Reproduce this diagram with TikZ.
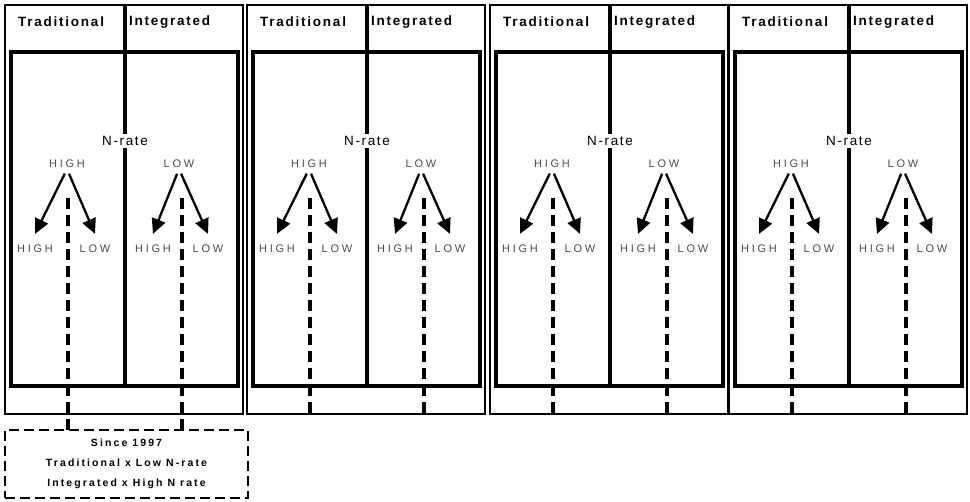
\documentclass[tikz,border=0pt]{standalone}
\usepackage{fontspec}
\setmainfont{Liberation Sans}
\usetikzlibrary{arrows.meta, positioning}

\begin{document}
\begin{tikzpicture}[x=1pt, y=-1pt, >={Triangle[length=15pt, width=14pt]},
    frame/.style={draw, line width=1.2pt},
    heavy/.style={line width=4.5pt},
    head/.style={anchor=west, inner sep=0pt,
                 font=\bfseries\fontsize{13.5}{15}\selectfont\addfontfeature{LetterSpace=13}},
    rate/.style={inner sep=2pt, font=\fontsize{13.5}{15}\selectfont\addfontfeature{LetterSpace=12}},
    lvl/.style={inner sep=1pt, text=black!70,
                font=\fontsize{11}{12}\selectfont\addfontfeature{LetterSpace=25}},
    split/.style={->, line width=2.3pt, shorten <=5pt},
    link/.style={line width=3.5pt, dash pattern=on 11pt off 6pt},
    note/.style={draw, line width=2.8pt, dash pattern=on 10pt off 5pt, align=center,
                 minimum width=243pt, minimum height=68pt, inner sep=0pt,
                 font=\bfseries\fontsize{10.5}{20}\selectfont\addfontfeature{LetterSpace=20}}]
  \useasboundingbox (0,0) rectangle (970,502);

  % legend box below the first panel
  \node[note] (note) at (126.5,464) {Since 1997\\Traditional x Low N-rate\\Integrated x High N rate};

  \foreach \d/\e [count=\i] in {125/430, 367/414, 610/414, 849/414} {
    % frames and divider
    \draw[frame] (\d-120,5) rectangle (\d+118,414);
    \draw[heavy] (\d-114,52) rectangle (\d+113,386);
    \node[head] (tr\i) at (\d-107,22) {Traditional};
    \node[head] (ig\i) at (\d+4,22) {Integrated};
    \node[rate] (nr\i) at (\d,141) {N-rate};
    \draw[heavy] (\d,5) -- (nr\i.north);
    \draw[heavy] (nr\i.south) -- (\d,386);
    % levels
    \node[lvl] (hi\i) at (\d-58,164) {HIGH};
    \node[lvl] (lo\i) at (\d+54,164) {LOW};
    \node[lvl] (hh\i) at (\d-90,249) {HIGH};
    \node[lvl] (hl\i) at (\d-30,249) {LOW};
    \node[lvl] (lh\i) at (\d+28,249) {HIGH};
    \node[lvl] (ll\i) at (\d+83,249) {LOW};
    \draw[split] (hi\i.south) -- ([yshift=10pt]hh\i.north);
    \draw[split] (hi\i.south) -- ([yshift=10pt]hl\i.north);
    \draw[split] (lo\i.south) -- ([yshift=10pt]lh\i.north);
    \draw[split] (lo\i.south) -- ([yshift=10pt]ll\i.north);
    % dashed links
    \coordinate (da\i) at (\d-57,198);
    \coordinate (db\i) at (\d+57,198);
    \draw[link] (da\i) -- (\d-57,\e);
    \draw[link] (db\i) -- (\d+57,\e);
  }
\end{tikzpicture}
\end{document}
